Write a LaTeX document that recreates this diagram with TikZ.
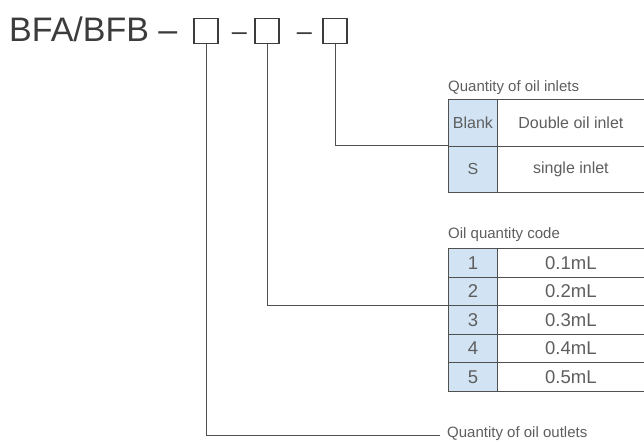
\documentclass[tikz,border=0pt]{standalone}
\usepackage{fontspec}
\setmainfont{Liberation Sans}
\definecolor{ink}{HTML}{3C3C3C}
\definecolor{soft}{HTML}{5E5E5E}
\definecolor{rule}{HTML}{505050}
\definecolor{codeblue}{HTML}{D2E4F4}
\tikzset{
  codebox/.style={draw=ink, line width=1.1pt, minimum width=24pt, minimum height=25pt, inner sep=0pt},
  joiner/.style={inner sep=0pt, text=ink, font=\fontsize{27}{30}\selectfont, anchor=base},
  link/.style={draw=rule, line width=0.8pt},
  title/.style={text=soft, font=\fontsize{15}{17}\selectfont, inner sep=0pt},
  keycell/.style={draw=rule, line width=0.8pt, fill=codeblue, anchor=north west, inner sep=0pt,
                  minimum width=49pt, text=soft},
  valcell/.style={draw=rule, line width=0.8pt, fill=white, anchor=north west, inner sep=0pt,
                  minimum width=147pt, text=soft},
  inletrow/.style={minimum height=46.5pt, font=\fontsize{16}{18}\selectfont},
  qtyrow/.style={minimum height=28.6pt, font=\fontsize{18.5}{20}\selectfont},
}
\begin{document}
\begin{tikzpicture}[x=1pt,y=-1pt]
\useasboundingbox (0,0) rectangle (644,441);

% model designation with three code boxes
\node[anchor=base west, inner sep=0pt, text=ink, font=\fontsize{34}{38}\selectfont] (model) at (9,42) {BFA/BFB –};
\node[codebox] (b1) at (206,31) {};
\node[joiner] (d1) at (239.5,40.5) {–};
\node[codebox] (b2) at (267,31) {};
\node[joiner] (d2) at (304.5,40.5) {–};
\node[codebox] (b3) at (335,31) {};

% table: quantity of oil inlets
\node[title, anchor=west] (t1) at (448,88) {Quantity of oil inlets};
\node[keycell, inletrow] (k1) at (448,99) {Blank};
\node[valcell, inletrow] (v1) at (497,99) {Double oil inlet};
\node[keycell, inletrow] (k2) at (448,145.5) {S};
\node[valcell, inletrow] (v2) at (497,145.5) {single inlet};

% table: oil quantity code
\node[title, anchor=west] (t2) at (448,235) {Oil quantity code};
\foreach \i/\v [evaluate=\i as \y using 248+(\i-1)*28.6] in {1/0.1mL,2/0.2mL,3/0.3mL,4/0.4mL,5/0.5mL}{
  \node[keycell, qtyrow] (q\i) at (448,\y) {\i};
  \node[valcell, qtyrow] (m\i) at (497,\y) {\v};
}

% outlets label
\node[title, anchor=base west] (t3) at (447,437.5) {Quantity of oil outlets};

% leader lines from the code boxes
\coordinate (e3) at (k2.north west);
\coordinate (e2) at (q3.north west);
\coordinate (e1) at (440,435);
\draw[link] (b3.south) |- (e3);
\draw[link] (b2.south) |- (e2);
\draw[link] (b1.south) |- (e1);
\end{tikzpicture}
\end{document}
